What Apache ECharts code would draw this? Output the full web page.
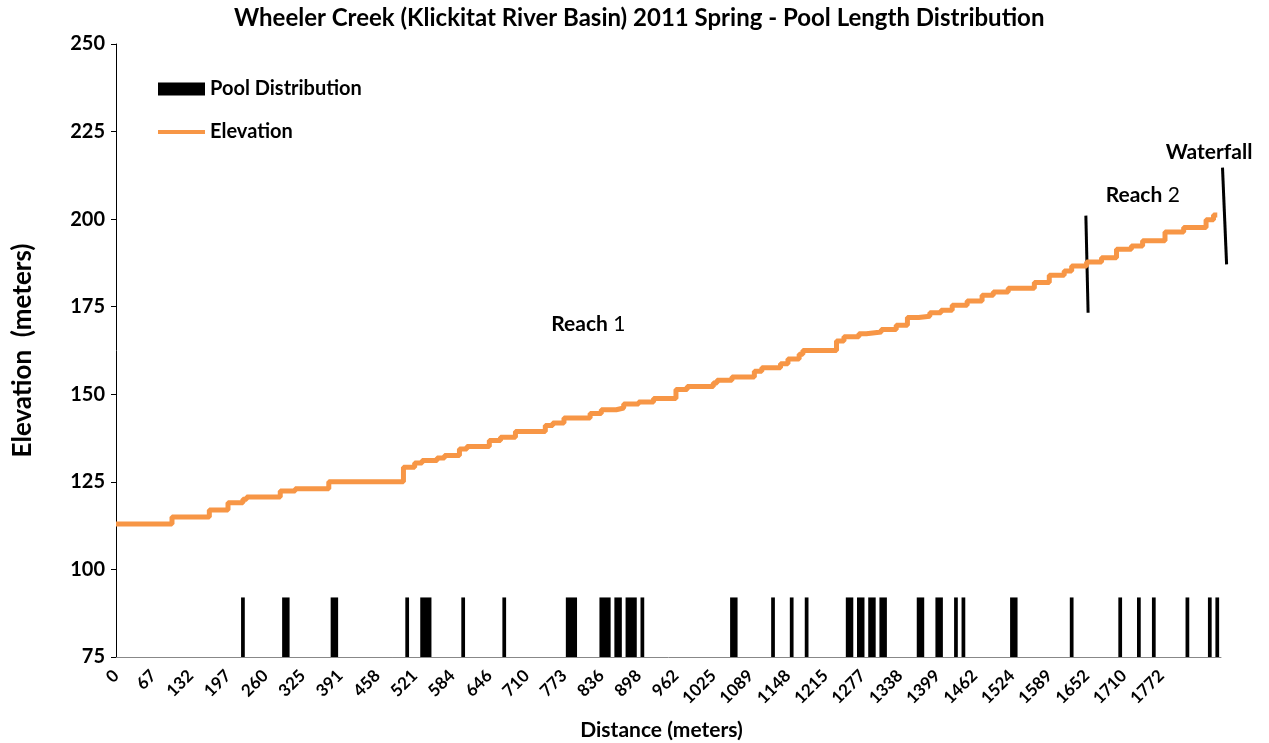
<!DOCTYPE html>
<html>
<head>
<meta charset="utf-8">
<style>
  html, body { margin: 0; padding: 0; background: #fff; }
  #main { width: 1269px; height: 743px; }
</style>
</head>
<body>
<div id="main"></div>
<script src="https://cdn.jsdelivr.net/npm/echarts@6/dist/echarts.min.js"></script>
<script>
  // distance labels, shown on every 10th survey point
  var distLabels = ['0','67','132','197','260','325','391','458','521','584','646','710','773','836','898',
    '962','1025','1089','1148','1215','1277','1338','1399','1462','1524','1589','1652','1710','1772'];
  var pointCount = 297;
  var labelEvery = 10;

  // elevation profile: [survey point where the step starts, elevation (m)]
  var elevSteps = [[0,113],[15,115],[25,117],[30,119],[34,120],[35,120.7],[44,122.4],[48,123],[57,125],
    [77,129.2],[80,130.4],[82,131.1],[86,131.8],[88,132.5],[92,134.4],[94,135.1],[100,136.8],[103,137.7],
    [107,139.4],[115,141.1],[117,141.8],[120,143.2],[127,144.5],[130,145.6],[134,146.1],[136,147.2],
    [140,147.8],[144,148.8],[150,151.4],[153,152.2],[160,153.2],[161,154],[165,154.9],[171,156.6],
    [173,157.6],[178,158.7],[180,160.1],[183,161.4],[184,162.5],[193,165.2],[195,166.4],[199,167.3],
    [201,167.8],[205,168.5],[209,169.7],[212,171.9],[215,172.3],[218,173.3],[221,174],[224,175.4],
    [228,176.6],[232,178.3],[235,179.2],[239,180.3],[246,181.9],[250,184],[254,185.2],[256,186.6],
    [260,187.8],[264,189],[268,191.4],[272,192.3],[275,193.8],[281,196.3],[286,197.6],[292,199.8],
    [294,201.2],[295,201.2]];

  // pools as runs of survey points: [first point, last point]
  var poolRuns = [[34,34],[45,46],[58,59],[78,78],[82,84],[93,93],[104,104],[121,123],[130,132],
    [134,135],[137,139],[141,141],[165,166],[176,176],[181,181],[185,185],[196,197],[199,200],
    [202,203],[205,206],[215,216],[220,221],[225,225],[227,227],[240,241],[256,256],[269,269],
    [274,274],[278,278],[287,287],[293,293],[295,295]];
  var poolTop = 92;
  var poolBase = 75;

  // reach boundaries [point, elevation] -> [point, elevation], and labels
  var reachLines = [[[259.8, 201], [260.4, 173.3]], [[296.4, 214.7], [297.5, 187.1]]];
  var reachText = [
    { at: [116.6, 169.9], bold: 'Reach', rest: ' 1' },
    { at: [265.1, 206.8], bold: 'Reach', rest: ' 2' },
    { at: [281.2, 219.1], bold: 'Waterfall', rest: '' }
  ];

  var font = 'Lato, "Liberation Sans", sans-serif';
  var orange = '#F79646';

  var categories = [];
  for (var i = 0; i < pointCount; i++) {
    var lab = (i % labelEvery === 0) ? distLabels[i / labelEvery] : null;
    categories.push(lab != null ? lab : '');
  }

  var legendText = { fontFamily: font, fontSize: 20, fontWeight: 'bold', color: '#000' };

  var chart = echarts.init(document.getElementById('main'));
  chart.setOption({
    animation: false,
    title: {
      text: 'Wheeler Creek (Klickitat River Basin) 2011 Spring - Pool Length Distribution',
      left: 234,
      top: 6,
      padding: 0,
      textStyle: { fontFamily: font, fontSize: 24, fontWeight: 'bold', color: '#000' }
    },
    legend: [
      {
        left: 158,
        top: 79,
        padding: 0,
        itemWidth: 47,
        itemHeight: 13,
        textStyle: legendText,
        data: [{ name: 'Pool Distribution', icon: 'rect', itemStyle: { color: '#000', borderWidth: 0 } }]
      },
      {
        left: 158,
        top: 122,
        padding: 0,
        itemWidth: 47,
        itemHeight: 4,
        textStyle: legendText,
        data: [{ name: 'Elevation', icon: 'rect', itemStyle: { color: orange, borderWidth: 0 } }]
      }
    ],
    grid: { left: 116, right: 48, top: 44, bottom: 86, outerBoundsMode: 'none' },
    xAxis: {
      type: 'category',
      data: categories,
      boundaryGap: false,
      axisLine: { lineStyle: { color: '#888', width: 1 } },
      axisTick: { show: false },
      axisLabel: {
        interval: function (idx, val) { return val !== ''; },
        rotate: 45,
        margin: 16,
        fontFamily: font,
        fontSize: 17,
        fontWeight: 'bold',
        color: '#000'
      },
      name: 'Distance (meters)',
      nameLocation: 'middle',
      nameGap: 63,
      nameTextStyle: { fontFamily: font, fontSize: 21, fontWeight: 'bold', color: '#000', padding: [0, 14, 0, 0] }
    },
    yAxis: {
      type: 'value',
      min: 75,
      max: 250,
      interval: 25,
      axisLine: { show: true, lineStyle: { color: '#000' } },
      axisTick: { show: true, length: 5, lineStyle: { color: '#000' } },
      splitLine: { show: false },
      axisLabel: { fontFamily: font, fontSize: 20, fontWeight: 'bold', color: '#000', margin: 11 },
      name: 'Elevation  (meters)',
      nameLocation: 'middle',
      nameGap: 80,
      nameTextStyle: { fontFamily: font, fontSize: 26, fontWeight: 'bold', color: '#000' }
    },
    series: [
      {
        name: 'Pool Distribution',
        type: 'custom',
        data: poolRuns,
        encode: { x: [0, 1] },
        itemStyle: { color: '#000' },
        renderItem: function (params, api) {
          var step = api.size([1, 0])[0];
          var top = api.coord([api.value(0), poolTop]);
          var bottom = api.coord([api.value(1), poolBase]);
          var x0 = top[0] - step / 2;
          var x1 = bottom[0] + step / 2;
          return {
            type: 'rect',
            shape: { x: x0, y: top[1], width: x1 - x0, height: bottom[1] - top[1] },
            style: { fill: '#000' }
          };
        }
      },
      {
        name: 'Elevation',
        type: 'line',
        step: 'end',
        data: elevSteps,
        symbol: 'none',
        lineStyle: { color: orange, width: 5 },
        itemStyle: { color: orange }
      }
    ]
  });

  // annotations placed from chart coordinates (fractional point index allowed)
  function toPx(idx, elev) {
    var a = chart.convertToPixel({ gridIndex: 0 }, [0, elev]);
    var b = chart.convertToPixel({ gridIndex: 0 }, [1, elev]);
    return [a[0] + (b[0] - a[0]) * idx, a[1]];
  }
  var graphics = [];
  reachLines.forEach(function (l) {
    var p1 = toPx(l[0][0], l[0][1]);
    var p2 = toPx(l[1][0], l[1][1]);
    graphics.push({
      type: 'line',
      shape: { x1: p1[0], y1: p1[1], x2: p2[0], y2: p2[1] },
      style: { stroke: '#000', lineWidth: 3 }
    });
  });
  reachText.forEach(function (t) {
    var p = toPx(t.at[0], t.at[1]);
    graphics.push({
      type: 'text',
      x: p[0],
      y: p[1],
      style: {
        text: '{b|' + t.bold + '}' + (t.rest ? '{n|' + t.rest + '}' : ''),
        verticalAlign: 'middle',
        rich: {
          b: { fontFamily: font, fontSize: 21, fontWeight: 'bold', fill: '#000' },
          n: { fontFamily: font, fontSize: 21, fontWeight: 'normal', fill: '#000' }
        }
      }
    });
  });
  chart.setOption({ graphic: graphics });
</script>
</body>
</html>
